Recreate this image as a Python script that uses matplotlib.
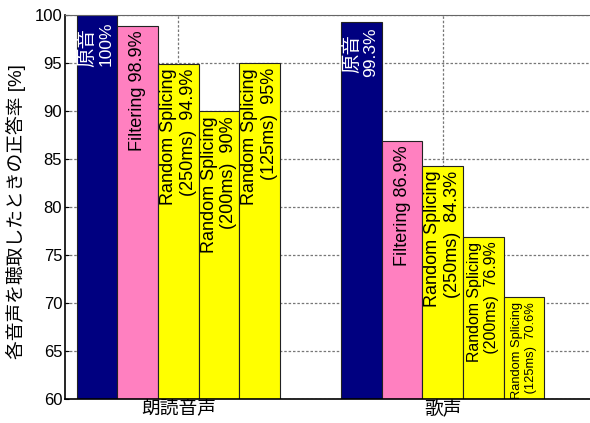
import matplotlib
matplotlib.use("Agg")
import matplotlib.pyplot as plt
import numpy as np

plt.rcParams['font.family'] = ['Liberation Sans', 'Noto Sans CJK JP', 'DejaVu Sans']

groups = ["朗読音声", "歌声"]
conditions = ["原音", "Filtering", "Random Splicing (250ms)", "Random Splicing (200ms)", "Random Splicing (125ms)"]
speech_vals = [100, 98.9, 94.9, 90, 95]
song_vals = [99.3, 86.9, 84.3, 76.9, 70.6]
speech_labels = ["原音\n100%", "Filtering 98.9%", "Random Splicing\n (250ms)  94.9%",
                 "Random Splicing\n (200ms)  90%", "Random Splicing\n (125ms)  95%"]
song_labels = ["原音\n99.3%", "Filtering 86.9%", "Random Splicing\n (250ms)  84.3%",
               "Random Splicing\n (200ms)  76.9%", "Random Splicing\n (125ms)  70.6%"]
yticks = [60, 65, 70, 75, 80, 85, 90, 95, 100]

colors = ["#000080", "#FF80C0", "#FFFF00", "#FFFF00", "#FFFF00"]
text_colors = ["white", "black", "black", "black", "black"]
speech_sizes = [13, 13, 13, 13, 13]
song_sizes = [13, 13, 13, 11.4, 9.3]

fig = plt.figure(figsize=(5.9, 4.23), dpi=100)
ax = fig.add_axes([0.1102, 0.0567, 0.8963, 0.9078])

centers = np.arange(1, len(groups) + 1)
bw = 0.1535
data = [speech_vals, song_vals]
labels = [speech_labels, song_labels]
sizes = [speech_sizes, song_sizes]

ax.set_axisbelow(True)
for gi, c in enumerate(centers):
    for k in range(len(conditions)):
        x = c + (k - 2) * bw
        v = data[gi][k]
        ax.bar(x, v - 60, bottom=60, width=bw, color=colors[k], edgecolor="#222222", linewidth=0.8, zorder=2)
        lines = labels[gi][k].split("\n")
        fs = sizes[gi][k]
        n = len(lines)
        pitch = fs * 1.08
        for j, line in enumerate(lines):
            lfs = fs
            dy = -3.5
            if k == 0:
                pitch = 13.5
                if j == 0:
                    lfs = 14
                    dy = -9
                else:
                    lfs = 12.5
                    dy = -4.5
            dx = (j - (n - 1) / 2) * pitch
            ax.annotate(line, xy=(x, v), xytext=(dx, dy), textcoords='offset points',
                        rotation=90, ha='center', va='top',
                        color=text_colors[k], fontsize=lfs, zorder=3)

ax.set_xlim(0.5715, 2.5715)
ax.set_ylim(60, 100)
ax.set_yticks(yticks)
ax.set_yticklabels([str(t) for t in yticks], fontsize=12)
ax.set_xticks(centers)
ax.set_xticklabels(groups, fontsize=13.5)
ax.tick_params(axis='both', direction='in', length=3, pad=2)
ax.tick_params(axis='x', length=0, pad=1)
ax.grid(True, linestyle=(0, (2, 1.5)), color="#777777", linewidth=0.9)
ax.set_ylabel("各音声を聴取したときの正答率 [%]", fontsize=13.5, labelpad=4)
ax.yaxis.set_label_coords(-0.074, 0.487)
for s in ['left', 'bottom']:
    ax.spines[s].set_color('black')
    ax.spines[s].set_linewidth(1.2)
ax.spines['top'].set_color('#666666')
ax.spines['right'].set_color('#666666')

fig.savefig("out.png", dpi=100)
